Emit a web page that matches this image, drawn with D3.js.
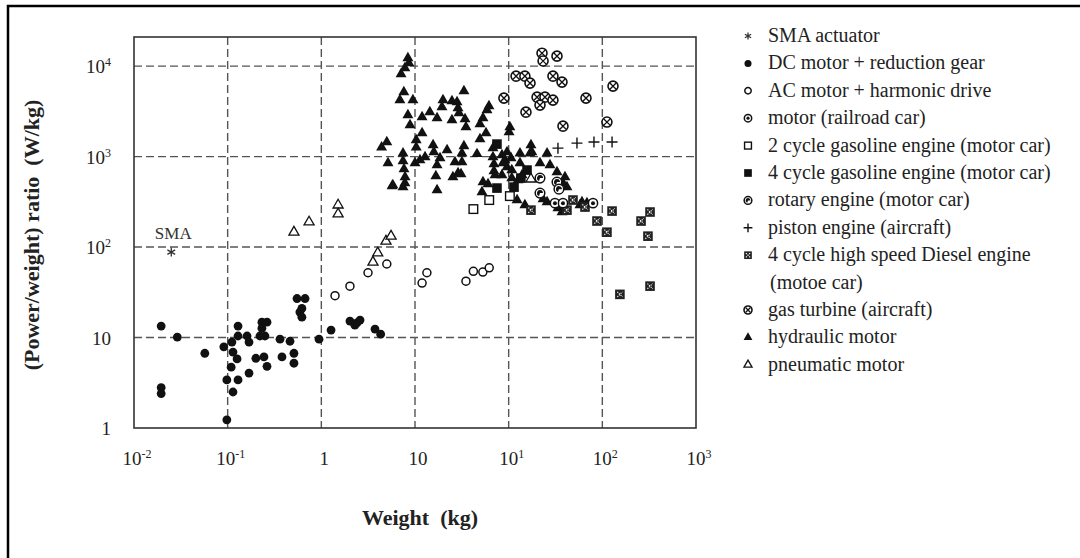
<!DOCTYPE html>
<html lang="en">
<head>
<meta charset="UTF-8">
<title>Power/weight ratio vs weight</title>
<script src="https://d3js.org/d3.v7.min.js"></script>
<style>
  body { margin: 0; background: #fff; overflow: hidden; }
  svg { display: block; font-family: "Liberation Serif", "Times New Roman", serif; }
</style>
</head>
<body>
<script>
// axis ticks (labels copied as printed on the original figure)
const xTicks = [1e-2, 1e-1, 1, 10, 100, 1000, 10000];
const xTickLabels = [["10", "-2"], ["10", "-1"], ["1", ""], ["10", ""], ["10", "1"], ["10", "2"], ["10", "3"]];
const yTicks = [1, 10, 100, 1000, 10000];
const yTickLabels = [["1", ""], ["10", ""], ["10", "2"], ["10", "3"], ["10", "4"]];

// [weight (kg), power/weight (W/kg)]
const smaActuator = [[0.025, 88]];
const dcMotor = [
  [0.0195, 13.4], [0.029, 10.1], [0.057, 6.7], [0.0195, 2.8], [0.0195, 2.4], [0.098, 1.23],
  [0.091, 7.9], [0.111, 8.9], [0.129, 13.4], [0.129, 10.4], [0.161, 10.4], [0.169, 8.9],
  [0.114, 6.9], [0.126, 5.8], [0.109, 4.7], [0.098, 3.4], [0.129, 3.4], [0.114, 2.5],
  [0.169, 4.05], [0.2, 5.9], [0.244, 6.1], [0.263, 4.8], [0.232, 14.8], [0.263, 14.8],
  [0.232, 12.7], [0.25, 10.4], [0.221, 10.4], [0.362, 9.6], [0.38, 6.1], [0.463, 9.1],
  [0.51, 6.7], [0.51, 5.2], [0.55, 27], [0.67, 27], [0.62, 21], [0.59, 19.1], [0.62, 16.8],
  [0.945, 9.6], [1.27, 12.1], [2.02, 15.2], [2.4, 14.5], [2.59, 15.6], [2.28, 13.7],
  [3.74, 12.4], [4.3, 10.9]
];
const acMotor = [[1.4, 29], [2.02, 37], [3.15, 52], [5.0, 65], [11.9, 40], [13.4, 52], [35, 42], [42, 54], [53, 53], [62, 59]];
const railroadMotor = [[312, 306], [380, 306], [795, 306]];
const twoCycleEngine = [[42, 263], [62, 331], [103, 366]];
const fourCycleEngine = [[75, 1375], [75, 449], [114, 460], [135, 579], [157, 710]];
const rotaryEngine = [[216, 579], [328, 523], [344, 437], [216, 395]];
const pistonEngine = [[336, 1240], [536, 1410], [814, 1450], [1270, 1450]];
const dieselEngine = [
  [173, 256], [419, 256], [486, 331], [653, 277], [877, 194], [1120, 146], [1270, 250],
  [2590, 194], [3230, 244], [3070, 132], [1540, 30], [3230, 37]
];
const gasTurbine = [
  [227, 13900], [233, 11400], [328, 12900], [120, 7750], [149, 7750], [169, 6490], [297, 7750],
  [371, 6660], [89, 4430], [201, 4540], [244, 4540], [216, 3710], [297, 4210], [153, 3100],
  [669, 4430], [1300, 6010], [1120, 2410], [380, 2170]
];
const hydraulicMotor = [
  [8.4, 12300], [8.6, 10800], [7.8, 9500], [7.1, 8160], [7.6, 5160], [6.9, 4210], [9.5, 4210],
  [8.4, 2870], [8.85, 2230], [11.9, 2730], [14.4, 3100], [17.2, 2660], [19.9, 4210], [19.4, 3520],
  [24.8, 4100], [28.1, 4000], [33.3, 5290], [28.8, 3430], [29.5, 3030], [24.8, 2530], [34.2, 2600],
  [35, 2120], [11.9, 1820], [10.3, 1520], [10.3, 1270], [5.0, 1450], [4.4, 1270], [15.6, 1340],
  [15.9, 1120], [22, 1180], [18.5, 962], [5.15, 848], [7.45, 1090], [7.45, 892], [7.63, 727],
  [7.83, 594], [7.45, 460], [10, 848], [11.3, 915], [12.8, 987], [17.2, 805], [16.7, 609],
  [17.2, 427], [26.7, 870], [31.7, 870], [33.3, 1310], [28.8, 658], [5.8, 484], [7.8, 510],
  [45.9, 1070], [58.7, 3270], [61.6, 3610], [53.2, 2660], [49.4, 2290], [57.3, 1820], [49.4, 1560],
  [103, 2120], [101, 1870], [68, 1240], [68, 987], [69.7, 827], [69.7, 692], [96, 1120], [91.4, 915],
  [96, 766], [108, 710], [132, 1090], [173, 1340], [177, 1120], [257, 1090], [139, 625], [216, 848],
  [276, 805], [328, 674], [399, 594], [419, 460], [53.2, 523], [60.2, 497], [126, 550], [84.8, 1040],
  [87, 848], [71.5, 625], [84.8, 625], [51.9, 405], [108, 579], [123, 331], [149, 291], [257, 314],
  [233, 339], [336, 270], [371, 244], [577, 291], [685, 306], [380, 510], [606, 314], [5.7, 472],
  [25.4, 594], [31, 641], [132, 848], [169, 1090], [106, 962], [31.7, 1090]
];
const pneumaticMotor = [[0.51, 146], [0.74, 189], [1.51, 291], [1.51, 232], [3.56, 68], [4.0, 86], [4.9, 116], [5.55, 132], [173, 564]];

const legendItems = [
  { kind: "asterisk", lines: ["SMA actuator"] },
  { kind: "dot", lines: ["DC motor + reduction gear"] },
  { kind: "ring", lines: ["AC motor + harmonic drive"] },
  { kind: "railroad", lines: ["motor (railroad car)"] },
  { kind: "openSquare", lines: ["2 cycle gasoline engine (motor car)"] },
  { kind: "filledSquare", lines: ["4 cycle gasoline engine (motor car)"] },
  { kind: "rotary", lines: ["rotary engine (motor car)"] },
  { kind: "plus", lines: ["piston engine (aircraft)"] },
  { kind: "diesel", lines: ["4 cycle high speed Diesel engine", "(motoe car)"] },
  { kind: "turbine", lines: ["gas turbine (aircraft)"] },
  { kind: "triangle", lines: ["hydraulic motor"] },
  { kind: "openTriangle", lines: ["pneumatic motor"] }
];

// draw order: hydraulic first so the other symbols sit on top
const series = [
  { kind: "triangle", data: hydraulicMotor },
  { kind: "openTriangle", data: pneumaticMotor },
  { kind: "dot", data: dcMotor },
  { kind: "ring", data: acMotor },
  { kind: "openSquare", data: twoCycleEngine },
  { kind: "filledSquare", data: fourCycleEngine },
  { kind: "diesel", data: dieselEngine },
  { kind: "railroad", data: railroadMotor },
  { kind: "rotary", data: rotaryEngine },
  { kind: "plus", data: pistonEngine },
  { kind: "turbine", data: gasTurbine },
  { kind: "asterisk", data: smaActuator }
];

const width = 1080, height = 558;
const plot = { left: 134, right: 696, top: 37, bottom: 428 };
const ink = "#111";

const svg = d3.select("body").append("svg")
  .attr("width", width)
  .attr("height", height);

// outer frame (runs off the right and bottom of the picture)
svg.append("rect")
  .attr("x", 8).attr("y", 6)
  .attr("width", 1100).attr("height", 600)
  .attr("fill", "#fff").attr("stroke", "#000").attr("stroke-width", 2.5);

const x = d3.scaleLog().domain([1e-2, 1e4]).range([plot.left, plot.right]);
const y = d3.scaleLog().domain([1, 2.1e4]).range([plot.bottom, plot.top]);

// grid
const grid = svg.append("g")
  .attr("stroke", "#555").attr("stroke-width", 1.4).attr("stroke-dasharray", "8,4");
grid.selectAll("line.v").data(xTicks.slice(1, -1)).join("line")
  .attr("class", "v")
  .attr("x1", d => x(d)).attr("x2", d => x(d))
  .attr("y1", plot.top).attr("y2", plot.bottom);
grid.selectAll("line.h").data(yTicks.slice(1)).join("line")
  .attr("class", "h")
  .attr("x1", plot.left).attr("x2", plot.right)
  .attr("y1", d => y(d)).attr("y2", d => y(d));

svg.append("rect")
  .attr("x", plot.left).attr("y", plot.top)
  .attr("width", plot.right - plot.left).attr("height", plot.bottom - plot.top)
  .attr("fill", "none").attr("stroke", "#333").attr("stroke-width", 1.6);

// tick labels
function powLabel(sel, parts) {
  sel.append("tspan").text(parts[0]);
  if (parts[1]) {
    sel.append("tspan").attr("dy", -7).attr("font-size", 12).text(parts[1]);
  }
}
xTicks.forEach((t, i) => {
  const tx = svg.append("text")
    .attr("x", x(t) + 3).attr("y", 465)
    .attr("text-anchor", "middle")
    .attr("font-size", 19).attr("fill", "#222");
  powLabel(tx, xTickLabels[i]);
});
yTicks.forEach((t, i) => {
  const ty = svg.append("text")
    .attr("x", 111).attr("y", y(t) + 7)
    .attr("text-anchor", "end")
    .attr("font-size", 19).attr("fill", "#222");
  powLabel(ty, yTickLabels[i]);
});

// axis titles
svg.append("text")
  .attr("x", 420).attr("y", 525)
  .attr("text-anchor", "middle")
  .attr("font-size", 22).attr("font-weight", "bold").attr("fill", "#222")
  .attr("xml:space", "preserve")
  .text("Weight  (kg)");
svg.append("text")
  .attr("transform", "translate(39,235) rotate(-90)")
  .attr("text-anchor", "middle")
  .attr("font-size", 22).attr("font-weight", "bold").attr("fill", "#222")
  .attr("xml:space", "preserve")
  .text("(Power/weight) ratio  (W/kg)");

// symbols
function drawMarker(g, kind, s) {
  switch (kind) {
    case "asterisk": {
      const r = 4.5 * s;
      let p = "";
      [90, 30, -30].forEach(a => {
        const dx = r * Math.cos(a * Math.PI / 180), dy = r * Math.sin(a * Math.PI / 180);
        p += `M${-dx},${-dy}L${dx},${dy}`;
      });
      g.append("path").attr("d", p).attr("stroke", "#333").attr("stroke-width", 1.3).attr("fill", "none");
      break;
    }
    case "dot":
      g.append("circle").attr("r", 4.4 * s).attr("fill", ink);
      break;
    case "ring":
      g.append("circle").attr("r", 4 * s).attr("fill", "#fff").attr("stroke", ink).attr("stroke-width", 1.5);
      break;
    case "railroad":
      g.append("circle").attr("r", 4.6 * s).attr("fill", "#fff").attr("stroke", ink).attr("stroke-width", 1.5);
      g.append("circle").attr("r", 2 * s).attr("fill", ink);
      break;
    case "openSquare":
      g.append("rect").attr("x", -4.3 * s).attr("y", -4.3 * s).attr("width", 8.6 * s).attr("height", 8.6 * s)
        .attr("fill", "#fff").attr("stroke", ink).attr("stroke-width", 1.4);
      break;
    case "filledSquare":
      g.append("rect").attr("x", -4.8 * s).attr("y", -4.8 * s).attr("width", 9.6 * s).attr("height", 9.6 * s)
        .attr("fill", ink);
      break;
    case "rotary":
      g.append("circle").attr("r", 4.8 * s).attr("fill", "#fff").attr("stroke", ink).attr("stroke-width", 1.5);
      g.append("path").attr("d", d3.arc()({ innerRadius: 0, outerRadius: 3 * s, startAngle: -Math.PI * 0.9, endAngle: Math.PI * 0.5 }))
        .attr("fill", ink);
      break;
    case "plus": {
      const r = 5.5 * s;
      g.append("path").attr("d", `M${-r},0H${r}M0,${-r}V${r}`).attr("stroke", ink).attr("stroke-width", 1.4);
      break;
    }
    case "diesel": {
      const h = 4.8 * s, k = 2.6 * s;
      g.append("rect").attr("x", -h).attr("y", -h).attr("width", 2 * h).attr("height", 2 * h).attr("fill", "#222");
      g.append("path").attr("d", `M${-k},${-k}L${k},${k}M${-k},${k}L${k},${-k}`)
        .attr("stroke", "#fff").attr("stroke-width", 1.1).attr("stroke-dasharray", "1.3,1");
      break;
    }
    case "turbine": {
      const k = 3.1 * s;
      g.append("circle").attr("r", 5 * s).attr("fill", "#fff").attr("stroke", ink).attr("stroke-width", 1.6);
      g.append("path").attr("d", `M${-k},${-k}L${k},${k}M${-k},${k}L${k},${-k}`)
        .attr("stroke", ink).attr("stroke-width", 1.3);
      break;
    }
    case "triangle":
      g.append("path").attr("d", d3.symbol(d3.symbolTriangle, 52 * s * s)()).attr("fill", ink);
      break;
    case "openTriangle":
      g.append("path").attr("d", d3.symbol(d3.symbolTriangle, 44 * s * s)())
        .attr("fill", "#fff").attr("stroke", ink).attr("stroke-width", 1.3);
      break;
  }
}

const marks = svg.append("g");
series.forEach(sr => {
  marks.selectAll(null).data(sr.data).join("g")
    .attr("transform", d => `translate(${x(d[0])},${y(d[1])})`)
    .each(function () { drawMarker(d3.select(this), sr.kind, 1); });
});

// SMA annotation
svg.append("text")
  .attr("x", x(smaActuator[0][0]) + 2).attr("y", y(smaActuator[0][1]) - 13)
  .attr("text-anchor", "middle")
  .attr("font-size", 17).attr("fill", "#333")
  .text("SMA");

// legend
const legend = svg.append("g");
let row = 0;
legendItems.forEach(item => {
  const cy = 36 + row * 27.4;
  const g = legend.append("g").attr("transform", `translate(748,${cy})`);
  drawMarker(g, item.kind, 0.8);
  item.lines.forEach((ln, j) => {
    legend.append("text")
      .attr("x", j === 0 ? 768 : 770).attr("y", cy + 6 + j * 27.4)
      .attr("font-size", 20).attr("fill", "#222")
      .text(ln);
  });
  row += item.lines.length;
});
</script>
</body>
</html>
